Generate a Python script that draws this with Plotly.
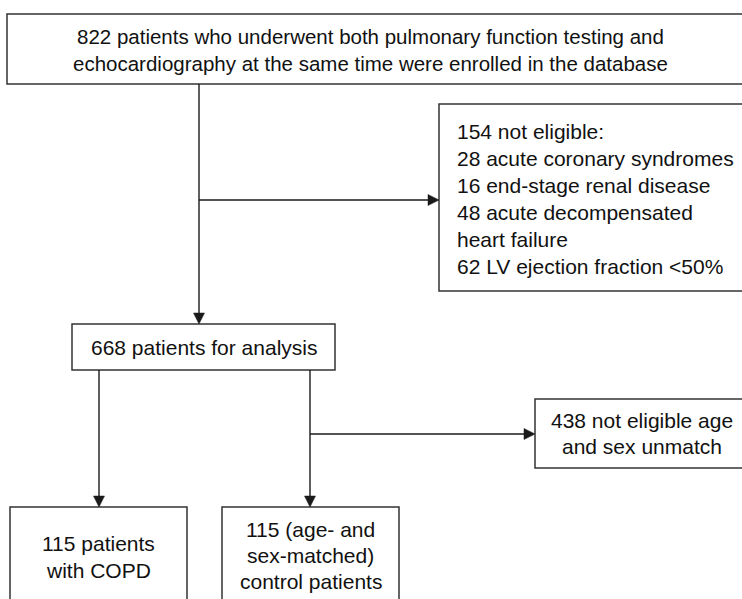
import plotly.graph_objects as go

# ---- text content ----
box1_lines = ["822 patients who underwent both pulmonary function testing and",
              "echocardiography at the same time were enrolled in the database"]
box2_lines = ["154 not eligible:", "28 acute coronary syndromes", "16 end-stage renal disease",
              "48 acute decompensated", "heart failure", "62 LV ejection fraction <50%"]
box3_lines = ["668 patients for analysis"]
box4_lines = ["438 not eligible age", "and sex unmatch"]
box5_lines = ["115 patients", "with COPD"]
box6_lines = ["115 (age- and", "sex-matched)", "control patients"]

W, H = 742, 599
FONT_FAMILY = "Liberation Sans, Arial, sans-serif"
TEXT_COLOR = "#111111"
LINE_COLOR = "#1a1a1a"
BOX_COLOR = "#333333"

fig = go.Figure()
shapes = []
annotations = []

def box(x0, y0, x1, y1):
    shapes.append(dict(type="rect", xref="x", yref="y", x0=x0, x1=x1, y0=y0, y1=y1,
                       line=dict(color=BOX_COLOR, width=1.5), fillcolor="rgba(0,0,0,0)"))

def line(x0, y0, x1, y1):
    shapes.append(dict(type="line", xref="x", yref="y", x0=x0, x1=x1, y0=y0, y1=y1,
                       line=dict(color=LINE_COLOR, width=1.4)))

def head(xt, yt, direction, L=11, hw=5.5):
    if direction == "down":
        p = f"M {xt},{yt} L {xt-hw},{yt-L} L {xt+hw},{yt-L} Z"
    else:  # right
        p = f"M {xt},{yt} L {xt-L},{yt-hw} L {xt-L},{yt+hw} Z"
    shapes.append(dict(type="path", xref="x", yref="y", path=p,
                       line=dict(color=LINE_COLOR, width=0.5), fillcolor=LINE_COLOR))

def text_lines(lines, x, y0, dy=26.5, anchor="center", size=21):
    for i, t in enumerate(lines):
        annotations.append(dict(x=x, y=y0 + i * dy, xref="x", yref="y", text=t,
                                showarrow=False, xanchor=anchor, yanchor="middle",
                                font=dict(family=FONT_FAMILY, size=size, color=TEXT_COLOR)))

# boxes
box(7, 14, 770, 84)
box(439, 104, 770, 291)
box(72, 324, 335, 370)
box(535, 399, 770, 468)
box(10, 507, 187, 640)
box(222, 507, 399, 640)

# connectors
line(199, 84, 199, 320); head(199, 324, "down")
line(199, 200, 434, 200); head(439, 200, "right")
line(99, 370, 99, 503); head(99, 507, "down")
line(310, 370, 310, 503); head(310, 507, "down")
line(310, 434, 530, 434); head(535, 434, "right")

# texts
text_lines(box1_lines, 370, 36, dy=27, size=20.5)
text_lines(box2_lines, 455, 131, dy=27, anchor="left")
text_lines(box3_lines, 203.5, 347)
text_lines(box4_lines, 642, 420, dy=26)
text_lines(box5_lines, 98.5, 543, dy=27)
text_lines(box6_lines, 310.5, 529, dy=26)

fig.update_layout(
    width=W, height=H,
    margin=dict(l=0, r=0, t=0, b=0),
    paper_bgcolor="white", plot_bgcolor="white",
    xaxis=dict(range=[0, W], visible=False, fixedrange=True),
    yaxis=dict(range=[H, 0], visible=False, fixedrange=True),
    shapes=shapes, annotations=annotations, showlegend=False,
)
fig.write_html("out.html", config={"displayModeBar": False},
               post_script="document.body.style.margin='0px';document.body.style.overflow='hidden';")
